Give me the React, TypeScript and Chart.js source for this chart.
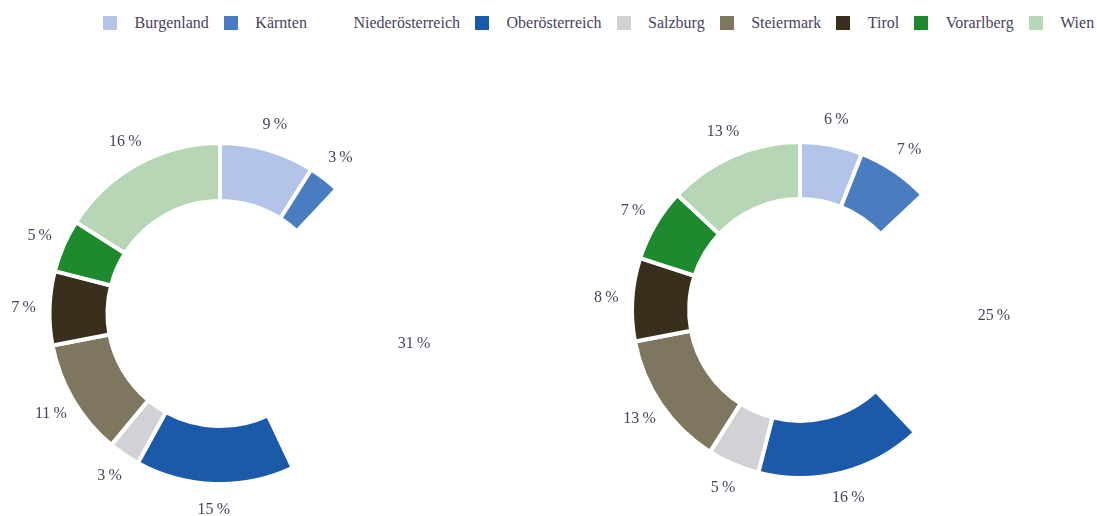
import React, { useEffect, useRef } from "react";
import { Chart, registerables } from "chart.js";

Chart.register(...registerables);

const categories = [
  "Burgenland",
  "Kärnten",
  "Niederösterreich",
  "Oberösterreich",
  "Salzburg",
  "Steiermark",
  "Tirol",
  "Vorarlberg",
  "Wien",
];
const valuesLeft = [9, 3, 31, 15, 3, 11, 7, 5, 16];
const valuesRight = [6, 7, 25, 16, 5, 13, 8, 7, 13];
const colors = [
  "#b3c4e8",
  "#4a7cc0",
  "#ffffff",
  "#1a5aa8",
  "#d2d2d6",
  "#7f7660",
  "#3a2e1c",
  "#1e8a2e",
  "#b7d6b5",
];

const TEXT_COLOR = "#4b3f5e";
const FONT = '"Liberation Serif", "DejaVu Serif", serif';

const labelPlugin = {
  id: "outerLabels",
  afterDatasetsDraw(chart: any) {
    const ctx = chart.ctx;
    const meta = chart.getDatasetMeta(0);
    const data = chart.data.datasets[0].data;
    ctx.save();
    ctx.font = `16px ${FONT}`;
    ctx.fillStyle = TEXT_COLOR;
    ctx.textAlign = "center";
    ctx.textBaseline = "middle";
    meta.data.forEach((arc: any, i: number) => {
      const p = arc.getProps(["x", "y", "startAngle", "endAngle", "outerRadius"], true);
      const mid = (p.startAngle + p.endAngle) / 2;
      const r = p.outerRadius + 26;
      ctx.fillText(`${data[i]}\u2009%`, p.x + Math.cos(mid) * r, p.y + Math.sin(mid) * r);
    });
    ctx.restore();
  },
};

function Donut(props: { values: number[]; width: number; height: number; padding: any; style: any }) {
  const ref = useRef<HTMLCanvasElement | null>(null);
  useEffect(() => {
    if (!ref.current) return;
    const chart = new Chart(ref.current, {
      type: "doughnut",
      data: {
        labels: categories,
        datasets: [
          {
            data: props.values,
            backgroundColor: colors,
            borderColor: "#ffffff",
            borderWidth: 4,
          },
        ],
      },
      options: {
        responsive: false,
        animation: false,
        cutout: "66%",
        layout: { padding: props.padding },
        plugins: {
          legend: { display: false },
          tooltip: { enabled: false },
        },
      },
      plugins: [labelPlugin],
    });
    return () => chart.destroy();
  }, []);
  return <canvas ref={ref} width={props.width} height={props.height} style={props.style} />;
}

export default function App() {
  return (
    <div
      style={{
        position: "absolute",
        left: 0,
        top: 0,
        width: 1097,
        height: 516,
        background: "#ffffff",
        overflow: "hidden",
        fontFamily: FONT,
      }}
    >
      <div
        style={{
          position: "absolute",
          left: 103,
          top: 13,
          display: "flex",
          alignItems: "center",
          whiteSpace: "nowrap",
          fontSize: 16,
          lineHeight: "20px",
          color: TEXT_COLOR,
        }}
      >
        {categories.map((c, i) => (
          <div key={c} style={{ display: "flex", alignItems: "center", marginRight: i < categories.length - 1 ? 15 : 0 }}>
            <span
              style={{
                display: "inline-block",
                width: 14,
                height: 14,
                background: colors[i],
                marginRight: 17.5,
              }}
            />
            <span>{c}</span>
          </div>
        ))}
      </div>
      <Donut
        values={valuesLeft}
        width={460}
        height={416}
        padding={{ left: 47, right: 67, top: 43, bottom: 28 }}
        style={{ position: "absolute", left: 0, top: 98 }}
      />
      <Donut
        values={valuesRight}
        width={537}
        height={416}
        padding={{ left: 70, right: 127, top: 40, bottom: 36 }}
        style={{ position: "absolute", left: 560, top: 100 }}
      />
    </div>
  );
}
